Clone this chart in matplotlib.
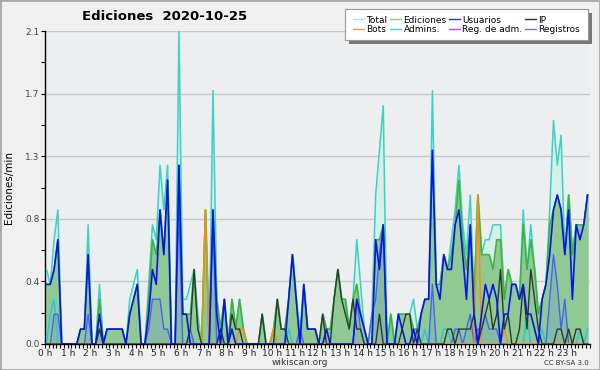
import matplotlib
matplotlib.use("Agg")
import matplotlib.pyplot as plt
import numpy as np
from matplotlib.patches import Rectangle

# counts per 10 minutes (144 slots), divided by 10 -> edits/min
total = [5,4,7,9,0,0, 0,0,0,1,1,8, 0,0,4,0,1,1, 1,1,1,0,3,4,
         5,0,0,4,8,7, 12,9,12,0,0,21, 3,3,4,5,2,0, 9,0,17,3,1,3,
         0,3,1,3,1,0, 0,0,0,2,0,0, 1,3,1,1,3,6, 3,1,4,1,1,1,
         0,2,1,1,3,5, 3,3,1,3,7,4, 1,0,2,10,13,16, 0,2,0,2,2,2,
         2,3,1,2,3,3, 17,4,4,6,5,7, 9,12,8,6,10,3, 10,6,7,7,8,8,
         8,3,5,4,4,3, 9,5,8,5,2,3, 4,9,15,12,14,6, 10,6,8,8,8,10]
ediciones = [4,4,5,7,0,0, 0,0,0,1,1,6, 0,0,3,0,1,1, 1,1,1,0,2,3,
             4,0,0,3,7,6, 9,6,11,0,0,12, 2,2,2,5,1,0, 9,0,9,3,1,3,
             0,3,1,3,1,0, 0,0,0,2,0,0, 1,3,1,1,3,6, 3,0,4,1,1,1,
             0,2,1,1,3,5, 3,3,1,3,4,2, 1,0,0,7,7,8, 0,2,0,2,2,2,
             2,1,1,2,3,3, 13,4,4,6,5,6, 8,11,7,5,8,3, 10,6,6,6,5,7,
             7,3,5,4,4,3, 8,5,7,5,2,3, 4,8,9,10,9,6, 10,6,8,8,8,10]
usuarios = [4,4,5,7,0,0, 0,0,0,1,1,6, 0,0,2,0,1,1, 1,1,1,0,2,3,
            4,0,0,2,5,4, 9,6,11,0,0,12, 2,2,0,0,0,0, 0,0,9,2,0,3,
            0,1,0,0,0,0, 0,0,0,0,0,0, 0,0,0,0,3,6, 3,0,4,1,1,1,
            0,0,1,0,0,0, 0,0,0,0,3,2, 1,0,0,7,5,8, 0,0,0,2,1,0,
            0,1,0,2,3,3, 13,4,3,6,5,5, 8,9,6,3,8,2, 0,2,4,3,4,3,
            0,2,2,4,4,3, 4,2,2,1,0,3, 4,6,9,10,9,6, 9,3,8,7,8,10]
ip = [0,0,0,0,0,0, 0,0,0,0,0,0, 0,0,1,0,0,0, 0,0,0,0,0,0,
      0,0,0,0,0,0, 0,0,0,0,0,0, 0,0,1,5,1,0, 0,0,0,0,1,0,
      0,2,1,1,0,0, 0,0,0,2,0,0, 0,3,1,1,0,0, 0,0,0,0,0,0,
      0,2,0,0,3,5, 3,2,1,3,1,1, 0,0,0,0,2,0, 0,0,0,0,1,2,
      2,0,1,0,0,0, 0,0,0,0,1,1, 0,1,1,1,1,2, 0,1,2,3,1,2,
      5,1,2,0,0,1, 4,1,5,3,1,0, 0,0,0,1,1,0, 1,0,1,1,0,0]
bots = [0]*144
bots[42] = 9
bots[51] = 1
bots[52] = 1
bots[60] = 1
bots[114] = 10
bots[121] = 1
admins = [0,2,3,0,0,0] + [0]*138
admins[64] = 1
admins[97] = 1
admins[100] = 1
admins[105] = 1
admins[106] = 1
admins[127] = 2
admins[131] = 1
admins[141] = 1
admins[143] = 1
registros = [0,0,2,2,0,0, 0,0,0,0,0,2, 0,0,1,0,0,0, 0,0,0,0,0,0,
             0,0,0,1,3,3, 3,1,1,0,0,9, 0,0,1,0,0,0, 0,0,8,0,1,0,
             0,0,0,0,0,0, 0,0,0,0,0,0, 0,0,0,0,0,0, 0,1,0,0,0,0,
             0,0,0,0,0,0, 0,0,0,0,3,1, 0,0,2,3,6,8, 0,0,0,0,0,0,
             0,0,0,0,0,0, 4,0,0,0,0,0, 1,1,0,1,2,0, 1,1,2,1,1,1,
             0,0,0,0,0,0, 0,0,0,0,0,0, 0,3,6,4,1,3, 0,0,0,0,0,0]

hour_labels = ["%d h" % h for h in range(24)]
ytick_vals = [0, 0.42, 0.84, 1.26, 1.68, 2.1]
ytick_labels = ["0.0", "0.4", "0.8", "1.3", "1.7", "2.1"]

x = np.arange(144) + 0.4
def per_min(a):
    return np.array(a) / 10.0

fig = plt.figure(figsize=(6, 3.7), dpi=100, facecolor="#f0f0f0")
ax = fig.add_axes([0.075, 0.0703, 0.908, 0.8457])
ax.set_facecolor("#edeef0")

# fills
ax.fill_between(x, per_min(total), color="#d5efe9", zorder=1)
ax.fill_between(x, per_min(ediciones), color="#8fc994", zorder=2)
ax.fill_between(x, per_min(registros), color="#6d8fd8", alpha=0.25, zorder=3, lw=0)

# lines
ax.plot(x, per_min(total), color="#3fd0c4", lw=1.1, zorder=4)
ax.plot(x, per_min(ediciones), color="#3db33d", lw=1.1, zorder=5)
ax.plot(x, per_min(admins), color="#22c8e6", lw=1.0, zorder=6)
ax.plot(x, per_min(registros), color="#4466ee", lw=1.0, zorder=6)
ax.plot(x, per_min(bots), color="#f09010", lw=1.1, zorder=7)
ax.plot(x, per_min(ip), color="#2c3a2c", lw=1.0, zorder=8)
ax.plot(x, per_min(usuarios), color="#0a14e0", lw=1.2, zorder=9)

ax.set_xlim(0, 144)
ax.set_ylim(0, 2.1)

ax.set_yticks(ytick_vals)
ax.set_yticklabels(ytick_labels, fontsize=6.5, color="#444444")
ax.set_yticks(np.arange(0.21, 2.1, 0.42), minor=True)
ax.set_xticks(np.arange(0, 144, 6))
ax.set_xticklabels(hour_labels, fontsize=6.5, color="#222222")
ax.set_xticks(np.arange(0, 145, 1), minor=True)
ax.tick_params(axis="x", which="both", direction="out", length=3, width=0.8, pad=0.5)
ax.tick_params(axis="y", which="both", direction="out", length=3, width=0.8, pad=1)
ax.grid(axis="y", which="major", color="#c8c8c8", lw=1.0, zorder=0)
ax.set_axisbelow(True)
for s in ["top", "right"]:
    ax.spines[s].set_visible(False)
ax.spines["left"].set_linewidth(1.0)
ax.spines["bottom"].set_linewidth(1.0)

ax.set_ylabel("Ediciones/min", fontsize=7.5, labelpad=8)
fig.text(0.275, 0.955, "Ediciones  2020-10-25", fontsize=9.5, fontweight="bold",
         ha="center", va="center")
fig.text(0.5, 0.02, "wikiscan.org", fontsize=6.5, ha="center", va="center", color="#333333")
fig.text(0.982, 0.02, "CC BY-SA 3.0", fontsize=5, ha="right", va="center", color="#333333")

# legend box with shadow
fig.patches.append(Rectangle((0.582, 0.882), 0.405, 0.083, transform=fig.transFigure,
                             facecolor="#777777", edgecolor="none", zorder=10))
fig.patches.append(Rectangle((0.575, 0.892), 0.405, 0.083, transform=fig.transFigure,
                             facecolor="white", edgecolor="#999999", lw=0.8, zorder=10))
names = ["Total", "Bots", "Ediciones", "Admins.", "Usuarios", "Reg. de adm.", "IP", "Registros"]
cols = ["#a8e6e6", "#f0a040", "#88d088", "#40d0e0", "#3030d0", "#d040e0", "#333333", "#7070ee"]
handles = [plt.Line2D([], [], color=c, lw=1) for c in cols]
leg = fig.legend(handles, names, ncol=4, loc="center", bbox_to_anchor=(0.7775, 0.933),
                 fontsize=6.5, frameon=False, handlelength=1.2,
                 handletextpad=0.3, columnspacing=0.25, labelspacing=0.05,
                 borderpad=0, borderaxespad=0)
leg.set_zorder(11)

# image border
fig.patches.append(Rectangle((0, 0), 1, 1, transform=fig.transFigure, fill=False,
                             edgecolor="#aaaaaa", lw=2))

fig.savefig("out.png", dpi=100, facecolor=fig.get_facecolor())
